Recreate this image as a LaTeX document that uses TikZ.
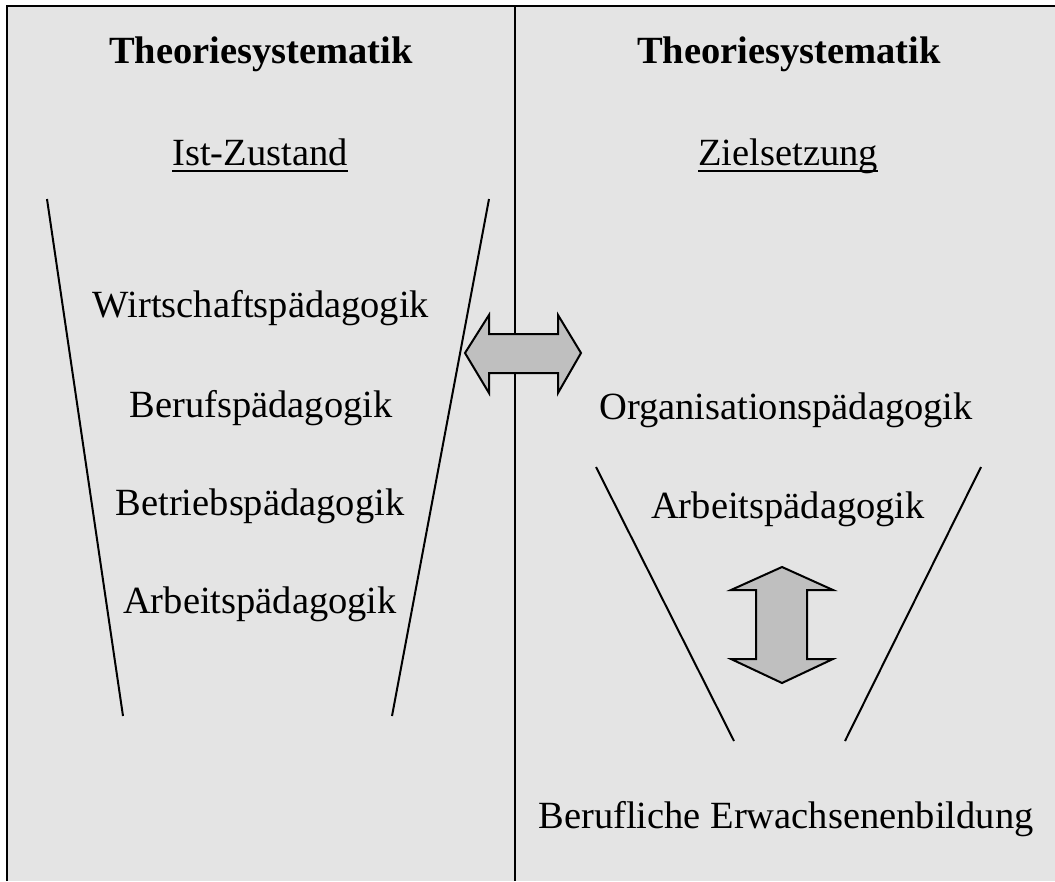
\documentclass[tikz,border=0pt]{standalone}
\usepackage{fontspec}
\setmainfont{Liberation Serif}
\begin{document}
\begin{tikzpicture}[x=1pt,y=-1pt,
  panelbg/.style={fill=black!10.5},
  frameline/.style={line width=2.6pt},
  funnel/.style={line width=2pt},
  label/.style={inner sep=0pt,anchor=base,font=\fontsize{38.5}{40}\selectfont},
  title/.style={label,font=\fontsize{38.5}{40}\selectfont\bfseries},
  bigarrow/.style={fill=black!25,draw=black,line width=2pt,line join=miter}]
\useasboundingbox (0,0) rectangle (1055,881);
% panel background and frame
\fill[panelbg] (7,6) rectangle (1055,881);
\draw[frameline] (7,881) -- (7,6) -- (1055,6);
\draw[frameline] (515,6) -- (515,881);

% left column
\node[title] (t1) at (261,63) {Theoriesystematik};
\node[label] (ist) at (260,165) {Ist-Zustand};
\draw[line width=2pt] ([yshift=-6pt]ist.base west) -- ([yshift=-6pt]ist.base east);
\node[label] (wp) at (261,317) {Wirtschaftspädagogik};
\node[label] (bp) at (261,417) {Berufspädagogik};
\node[label] (btp) at (260,515) {Betriebspädagogik};
\node[label] (ap1) at (260,613) {Arbeitspädagogik};
\coordinate (lf1) at (47,199);
\coordinate (lf2) at (123,716);
\coordinate (lf3) at (489,199);
\coordinate (lf4) at (392,716);
\draw[funnel] (lf1) -- (lf2);
\draw[funnel] (lf3) -- (lf4);

% right column
\node[title] (t2) at (789,63) {Theoriesystematik};
\node[label] (ziel) at (788,165) {Zielsetzung};
\draw[line width=2pt] ([yshift=-6pt]ziel.base west) -- ([yshift=-6pt]ziel.base east);
\node[label] (op) at (786,419) {Organisationspädagogik};
\node[label] (ap2) at (788,518) {Arbeitspädagogik};
\node[label] (beb) at (786,828) {Berufliche Erwachsenenbildung};
\coordinate (rf1) at (596,467);
\coordinate (rf2) at (734,741);
\coordinate (rf3) at (981,467);
\coordinate (rf4) at (845,741);
\draw[funnel] (rf1) -- (rf2);
\draw[funnel] (rf3) -- (rf4);

% double arrows
\draw[bigarrow] (465,353) -- (489,315) -- (489,334) -- (558,334) -- (558,315)
  -- (581,353) -- (558,393) -- (558,373) -- (489,373) -- (489,393) -- cycle;
\draw[bigarrow] (782,567) -- (833,590) -- (807,590) -- (807,659) -- (833,659)
  -- (782,683) -- (731,659) -- (756,659) -- (756,590) -- (731,590) -- cycle;
\end{tikzpicture}
\end{document}
